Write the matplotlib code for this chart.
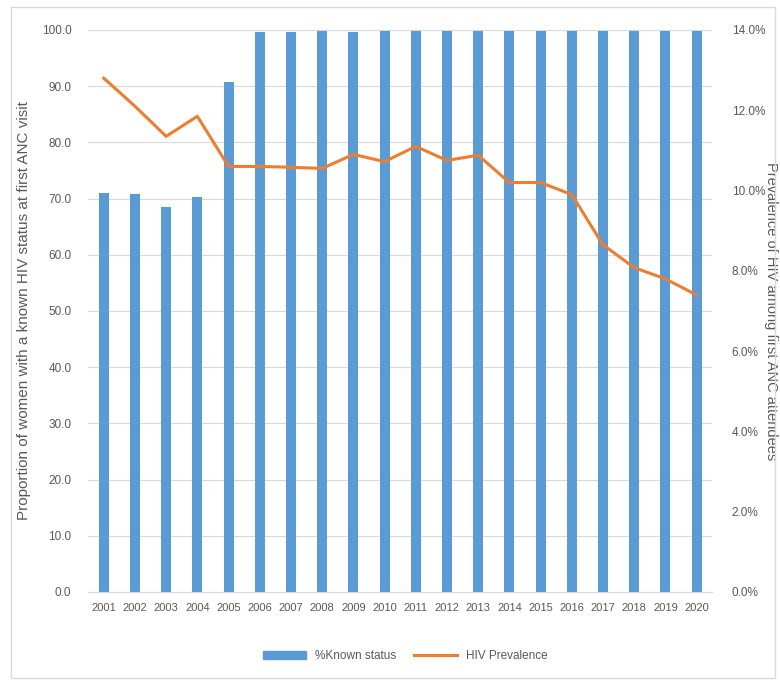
import matplotlib
matplotlib.use("Agg")
import matplotlib.pyplot as plt
from matplotlib.patches import Rectangle
from matplotlib.lines import Line2D
from matplotlib.ticker import FuncFormatter

years = [str(y) for y in range(2001, 2021)]
known_status = [71.0, 70.9, 68.5, 70.3, 90.7, 99.6, 99.6, 99.9, 99.6, 99.9,
                99.9, 99.9, 99.9, 99.9, 99.8, 99.8, 99.9, 99.9, 99.9, 99.9]
hiv_prev = [12.8, 12.1, 11.35, 11.85, 10.6, 10.6, 10.58, 10.55, 10.9, 10.72,
            11.1, 10.75, 10.88, 10.2, 10.2, 9.9, 8.65, 8.08, 7.8, 7.4]

blue = "#5B9BD5"
orange = "#ED7D31"
grey = "#595959"

plt.rcParams["font.family"] = ["Liberation Sans", "DejaVu Sans"]

fig = plt.figure(figsize=(7.8, 6.81), dpi=100)
fig.patches.append(Rectangle((0.014, 0.004), 0.98, 0.985, transform=fig.transFigure,
                             fill=False, edgecolor="#d9d9d9", linewidth=1))

ax = fig.add_axes([0.113, 0.1307, 0.8, 0.8253])
x = range(len(years))
ax.bar(x, known_status, width=0.32, color=blue, zorder=2)
ax.set_ylim(0, 100)
ax.set_xlim(-0.5, len(years) - 0.5)
ax.set_yticks(range(0, 101, 10))
ax.yaxis.set_major_formatter(FuncFormatter(lambda v, p: f"{v:.1f}"))
ax.set_xticks(list(x))
ax.set_xticklabels(years, fontsize=8, color=grey)
ax.tick_params(axis="y", labelsize=8.5, labelcolor=grey, length=0, pad=12)
ax.tick_params(axis="x", length=0, pad=8)
ax.grid(axis="y", color="#d9d9d9", linewidth=0.8, zorder=0)
for s in ["top", "left", "right"]:
    ax.spines[s].set_visible(False)
ax.spines["bottom"].set_color("#d9d9d9")
ax.set_ylabel("Proportion of women with a known HIV status at first ANC visit",
              fontsize=11, color=grey, labelpad=8)

ax2 = ax.twinx()
ax2.plot(x, hiv_prev, color=orange, linewidth=2.2, zorder=3)
ax2.set_ylim(0, 14)
ax2.set_yticks(range(0, 15, 2))
ax2.yaxis.set_major_formatter(FuncFormatter(lambda v, p: f"{v:.1f}%"))
ax2.tick_params(axis="y", labelsize=8.5, labelcolor=grey, length=0, pad=14)
for s in ["top", "left", "right", "bottom"]:
    ax2.spines[s].set_visible(False)
ax2.set_ylabel("Prevalence of HIV among first ANC attendees",
               fontsize=10.5, color=grey, rotation=270, va="center", ha="center")
ax2.yaxis.set_label_coords(1.095, 0.5)

handles = [Rectangle((0, 0), 1, 1, color=blue),
           Line2D([0], [0], color=orange, linewidth=2.2)]
fig.legend(handles, ["%Known status", "HIV Prevalence"], loc="center",
           bbox_to_anchor=(0.52, 0.037), ncol=2, frameon=False, fontsize=8.5,
           labelcolor=grey, handlelength=3.6, columnspacing=1.5)

fig.savefig("out.png", dpi=100)
